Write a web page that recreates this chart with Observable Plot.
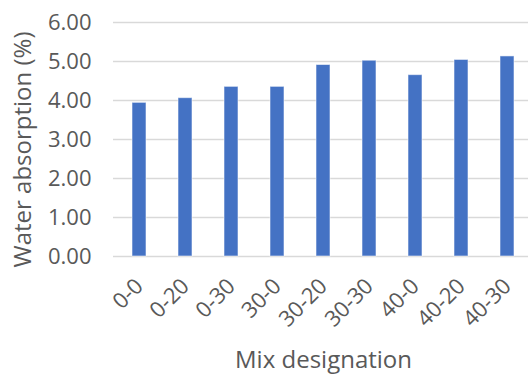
<!DOCTYPE html>
<html>
<head>
<meta charset="utf-8">
<script src="https://cdn.jsdelivr.net/npm/d3@7"></script>
<script src="https://cdn.jsdelivr.net/npm/@observablehq/plot@0.6"></script>
<style>
  html, body { margin: 0; padding: 0; background: #fff; overflow: hidden; }
  #chart { width: 528px; height: 374px; overflow: hidden; position: relative; }
</style>
</head>
<body>
<div id="chart"></div>
<script>
// Water absorption by mix designation
const mixes = ["0-0", "0-20", "0-30", "30-0", "30-20", "30-30", "40-0", "40-20", "40-30"];
const absorption = [3.94, 4.06, 4.35, 4.35, 4.91, 5.02, 4.65, 5.04, 5.13];
const yTicks = [0, 1, 2, 3, 4, 5, 6];
const xTitle = "Mix designation";
const yTitle = "Water absorption (%)";

const rows = mixes.map((m, i) => ({mix: m, value: absorption[i]}));

const textColor = "#595959";
const font = "'Open Sans', sans-serif";

const chart = Plot.plot({
  width: 533,
  height: 374,
  marginTop: 22,
  marginBottom: 118,
  marginLeft: 113,
  marginRight: 0,
  style: {fontFamily: font, fontSize: "22px", color: textColor, background: "white", maxWidth: "none", overflow: "visible"},
  x: {domain: mixes, paddingInner: 0.69, paddingOuter: 0.345},
  y: {domain: [0, 6]},
  marks: [
    Plot.ruleY(yTicks, {stroke: "#d9d9d9", strokeWidth: 1.5}),
    Plot.barY(rows, {
      x: "mix", y: "value",
      fill: "#4472c4", stroke: "#ffffff", strokeOpacity: 0.55, strokeWidth: 1
    }),
    Plot.axisY({
      ticks: yTicks, tickSize: 0, tickPadding: 22,
      tickFormat: d => d.toFixed(2),
      label: null, fill: textColor, fontSize: 22
    }),
    Plot.axisX({
      tickSize: 0, tickRotate: -45, tickPadding: 26,
      label: null, fill: textColor, fontSize: 22
    }),
    // axis titles
    Plot.text([yTitle], {
      frameAnchor: "left", rotate: -90, dx: -90, dy: 10,
      textAnchor: "middle", lineAnchor: "middle",
      fill: textColor, fontSize: 24
    }),
    Plot.text([xTitle], {
      frameAnchor: "bottom", dy: 104,
      textAnchor: "middle", lineAnchor: "middle",
      fill: textColor, fontSize: 24
    })
  ]
});

document.getElementById("chart").appendChild(chart);

// resolve text layout once the chart is in the page
let widest = 0;
chart.querySelectorAll("text").forEach(t => {
  widest = Math.max(widest, t.getBoundingClientRect().width);
  getComputedStyle(t).fontSize;
});
chart.dataset.widestLabel = widest.toFixed(0);
</script>
</body>
</html>
